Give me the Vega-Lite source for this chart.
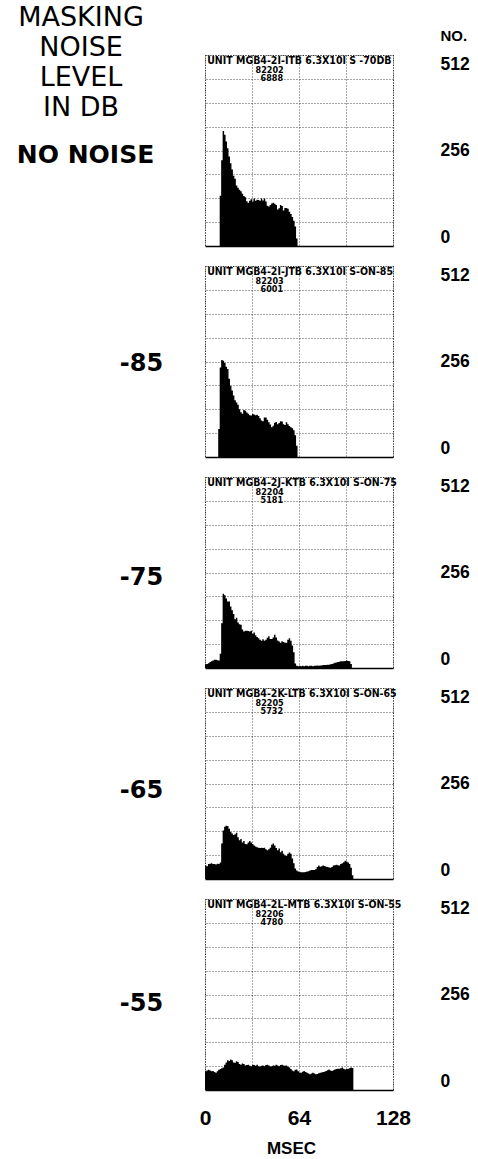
{
"$schema":"https://vega.github.io/schema/vega-lite/v6.json",
"autosize":{"type":"none"},
"padding":{"left":205,"top":55,"right":273,"bottom":1104},
"background":"white",
"datasets":{
"hist":[
{"level":"NO NOISE","t":10,"n":135},{"level":"NO NOISE","t":11,"n":230},{"level":"NO NOISE","t":12,"n":308},{"level":"NO NOISE","t":13,"n":298},{"level":"NO NOISE","t":14,"n":280},{"level":"NO NOISE","t":15,"n":262},{"level":"NO NOISE","t":16,"n":240},{"level":"NO NOISE","t":17,"n":222},{"level":"NO NOISE","t":18,"n":205},{"level":"NO NOISE","t":19,"n":188},{"level":"NO NOISE","t":20,"n":180},{"level":"NO NOISE","t":21,"n":162},{"level":"NO NOISE","t":22,"n":156},{"level":"NO NOISE","t":23,"n":151},{"level":"NO NOISE","t":24,"n":147},{"level":"NO NOISE","t":25,"n":140},{"level":"NO NOISE","t":26,"n":134},{"level":"NO NOISE","t":27,"n":131},{"level":"NO NOISE","t":28,"n":120},{"level":"NO NOISE","t":29,"n":116},{"level":"NO NOISE","t":30,"n":121},{"level":"NO NOISE","t":31,"n":125},{"level":"NO NOISE","t":32,"n":119},{"level":"NO NOISE","t":33,"n":127},{"level":"NO NOISE","t":34,"n":121},{"level":"NO NOISE","t":35,"n":124},{"level":"NO NOISE","t":36,"n":123},{"level":"NO NOISE","t":37,"n":121},{"level":"NO NOISE","t":38,"n":127},{"level":"NO NOISE","t":39,"n":122},{"level":"NO NOISE","t":40,"n":127},{"level":"NO NOISE","t":41,"n":119},{"level":"NO NOISE","t":42,"n":108},{"level":"NO NOISE","t":43,"n":106},{"level":"NO NOISE","t":44,"n":110},{"level":"NO NOISE","t":45,"n":114},{"level":"NO NOISE","t":46,"n":116},{"level":"NO NOISE","t":47,"n":113},{"level":"NO NOISE","t":48,"n":110},{"level":"NO NOISE","t":49,"n":98},{"level":"NO NOISE","t":50,"n":101},{"level":"NO NOISE","t":51,"n":110},{"level":"NO NOISE","t":52,"n":107},{"level":"NO NOISE","t":53,"n":95},{"level":"NO NOISE","t":54,"n":102},{"level":"NO NOISE","t":55,"n":102},{"level":"NO NOISE","t":56,"n":100},{"level":"NO NOISE","t":57,"n":92},{"level":"NO NOISE","t":58,"n":86},{"level":"NO NOISE","t":59,"n":78},{"level":"NO NOISE","t":60,"n":68},{"level":"NO NOISE","t":61,"n":52},{"level":"NO NOISE","t":62,"n":20},{"level":"NO NOISE","t":63,"n":0},
{"level":"-85","t":9,"n":75},{"level":"-85","t":10,"n":240},{"level":"-85","t":11,"n":260},{"level":"-85","t":12,"n":258},{"level":"-85","t":13,"n":252},{"level":"-85","t":14,"n":242},{"level":"-85","t":15,"n":236},{"level":"-85","t":16,"n":210},{"level":"-85","t":17,"n":190},{"level":"-85","t":18,"n":178},{"level":"-85","t":19,"n":165},{"level":"-85","t":20,"n":152},{"level":"-85","t":21,"n":146},{"level":"-85","t":22,"n":140},{"level":"-85","t":23,"n":128},{"level":"-85","t":24,"n":120},{"level":"-85","t":25,"n":116},{"level":"-85","t":26,"n":126},{"level":"-85","t":27,"n":124},{"level":"-85","t":28,"n":119},{"level":"-85","t":29,"n":116},{"level":"-85","t":30,"n":112},{"level":"-85","t":31,"n":111},{"level":"-85","t":32,"n":115},{"level":"-85","t":33,"n":114},{"level":"-85","t":34,"n":112},{"level":"-85","t":35,"n":113},{"level":"-85","t":36,"n":110},{"level":"-85","t":37,"n":104},{"level":"-85","t":38,"n":98},{"level":"-85","t":39,"n":96},{"level":"-85","t":40,"n":106},{"level":"-85","t":41,"n":106},{"level":"-85","t":42,"n":100},{"level":"-85","t":43,"n":93},{"level":"-85","t":44,"n":87},{"level":"-85","t":45,"n":80},{"level":"-85","t":46,"n":84},{"level":"-85","t":47,"n":92},{"level":"-85","t":48,"n":94},{"level":"-85","t":49,"n":88},{"level":"-85","t":50,"n":91},{"level":"-85","t":51,"n":96},{"level":"-85","t":52,"n":95},{"level":"-85","t":53,"n":88},{"level":"-85","t":54,"n":86},{"level":"-85","t":55,"n":93},{"level":"-85","t":56,"n":88},{"level":"-85","t":57,"n":83},{"level":"-85","t":58,"n":80},{"level":"-85","t":59,"n":77},{"level":"-85","t":60,"n":72},{"level":"-85","t":61,"n":58},{"level":"-85","t":62,"n":30},{"level":"-85","t":63,"n":0},
{"level":"-75","t":0,"n":10},{"level":"-75","t":1,"n":11},{"level":"-75","t":2,"n":13},{"level":"-75","t":3,"n":16},{"level":"-75","t":4,"n":18},{"level":"-75","t":5,"n":20},{"level":"-75","t":6,"n":22},{"level":"-75","t":7,"n":22},{"level":"-75","t":8,"n":21},{"level":"-75","t":9,"n":20},{"level":"-75","t":10,"n":38},{"level":"-75","t":11,"n":120},{"level":"-75","t":12,"n":199},{"level":"-75","t":13,"n":195},{"level":"-75","t":14,"n":186},{"level":"-75","t":15,"n":178},{"level":"-75","t":16,"n":178},{"level":"-75","t":17,"n":165},{"level":"-75","t":18,"n":155},{"level":"-75","t":19,"n":145},{"level":"-75","t":20,"n":131},{"level":"-75","t":21,"n":135},{"level":"-75","t":22,"n":122},{"level":"-75","t":23,"n":117},{"level":"-75","t":24,"n":116},{"level":"-75","t":25,"n":103},{"level":"-75","t":26,"n":98},{"level":"-75","t":27,"n":100},{"level":"-75","t":28,"n":100},{"level":"-75","t":29,"n":99},{"level":"-75","t":30,"n":98},{"level":"-75","t":31,"n":100},{"level":"-75","t":32,"n":92},{"level":"-75","t":33,"n":95},{"level":"-75","t":34,"n":88},{"level":"-75","t":35,"n":83},{"level":"-75","t":36,"n":80},{"level":"-75","t":37,"n":76},{"level":"-75","t":38,"n":73},{"level":"-75","t":39,"n":77},{"level":"-75","t":40,"n":73},{"level":"-75","t":41,"n":76},{"level":"-75","t":42,"n":81},{"level":"-75","t":43,"n":85},{"level":"-75","t":44,"n":78},{"level":"-75","t":45,"n":78},{"level":"-75","t":46,"n":82},{"level":"-75","t":47,"n":89},{"level":"-75","t":48,"n":82},{"level":"-75","t":49,"n":74},{"level":"-75","t":50,"n":71},{"level":"-75","t":51,"n":68},{"level":"-75","t":52,"n":72},{"level":"-75","t":53,"n":70},{"level":"-75","t":54,"n":68},{"level":"-75","t":55,"n":68},{"level":"-75","t":56,"n":76},{"level":"-75","t":57,"n":80},{"level":"-75","t":58,"n":73},{"level":"-75","t":59,"n":60},{"level":"-75","t":60,"n":42},{"level":"-75","t":61,"n":12},{"level":"-75","t":62,"n":6},{"level":"-75","t":63,"n":5},{"level":"-75","t":64,"n":6},{"level":"-75","t":65,"n":5},{"level":"-75","t":66,"n":6},{"level":"-75","t":67,"n":5},{"level":"-75","t":68,"n":6},{"level":"-75","t":69,"n":6},{"level":"-75","t":70,"n":5},{"level":"-75","t":71,"n":6},{"level":"-75","t":72,"n":6},{"level":"-75","t":73,"n":5},{"level":"-75","t":74,"n":6},{"level":"-75","t":75,"n":6},{"level":"-75","t":76,"n":7},{"level":"-75","t":77,"n":6},{"level":"-75","t":78,"n":7},{"level":"-75","t":79,"n":7},{"level":"-75","t":80,"n":8},{"level":"-75","t":81,"n":8},{"level":"-75","t":82,"n":8},{"level":"-75","t":83,"n":9},{"level":"-75","t":84,"n":9},{"level":"-75","t":85,"n":10},{"level":"-75","t":86,"n":11},{"level":"-75","t":87,"n":12},{"level":"-75","t":88,"n":14},{"level":"-75","t":89,"n":15},{"level":"-75","t":90,"n":16},{"level":"-75","t":91,"n":17},{"level":"-75","t":92,"n":18},{"level":"-75","t":93,"n":18},{"level":"-75","t":94,"n":18},{"level":"-75","t":95,"n":19},{"level":"-75","t":96,"n":20},{"level":"-75","t":97,"n":19},{"level":"-75","t":98,"n":18},{"level":"-75","t":99,"n":11},{"level":"-75","t":100,"n":0},
{"level":"-65","t":0,"n":36},{"level":"-65","t":1,"n":34},{"level":"-65","t":2,"n":40},{"level":"-65","t":3,"n":41},{"level":"-65","t":4,"n":42},{"level":"-65","t":5,"n":40},{"level":"-65","t":6,"n":40},{"level":"-65","t":7,"n":39},{"level":"-65","t":8,"n":41},{"level":"-65","t":9,"n":40},{"level":"-65","t":10,"n":44},{"level":"-65","t":11,"n":95},{"level":"-65","t":12,"n":130},{"level":"-65","t":13,"n":140},{"level":"-65","t":14,"n":143},{"level":"-65","t":15,"n":142},{"level":"-65","t":16,"n":135},{"level":"-65","t":17,"n":126},{"level":"-65","t":18,"n":122},{"level":"-65","t":19,"n":118},{"level":"-65","t":20,"n":120},{"level":"-65","t":21,"n":124},{"level":"-65","t":22,"n":112},{"level":"-65","t":23,"n":104},{"level":"-65","t":24,"n":107},{"level":"-65","t":25,"n":98},{"level":"-65","t":26,"n":102},{"level":"-65","t":27,"n":94},{"level":"-65","t":28,"n":93},{"level":"-65","t":29,"n":98},{"level":"-65","t":30,"n":102},{"level":"-65","t":31,"n":98},{"level":"-65","t":32,"n":94},{"level":"-65","t":33,"n":90},{"level":"-65","t":34,"n":87},{"level":"-65","t":35,"n":85},{"level":"-65","t":36,"n":84},{"level":"-65","t":37,"n":83},{"level":"-65","t":38,"n":84},{"level":"-65","t":39,"n":83},{"level":"-65","t":40,"n":84},{"level":"-65","t":41,"n":80},{"level":"-65","t":42,"n":77},{"level":"-65","t":43,"n":80},{"level":"-65","t":44,"n":84},{"level":"-65","t":45,"n":92},{"level":"-65","t":46,"n":95},{"level":"-65","t":47,"n":90},{"level":"-65","t":48,"n":83},{"level":"-65","t":49,"n":77},{"level":"-65","t":50,"n":82},{"level":"-65","t":51,"n":72},{"level":"-65","t":52,"n":76},{"level":"-65","t":53,"n":68},{"level":"-65","t":54,"n":63},{"level":"-65","t":55,"n":62},{"level":"-65","t":56,"n":68},{"level":"-65","t":57,"n":71},{"level":"-65","t":58,"n":68},{"level":"-65","t":59,"n":55},{"level":"-65","t":60,"n":42},{"level":"-65","t":61,"n":28},{"level":"-65","t":62,"n":23},{"level":"-65","t":63,"n":20},{"level":"-65","t":64,"n":19},{"level":"-65","t":65,"n":18},{"level":"-65","t":66,"n":18},{"level":"-65","t":67,"n":18},{"level":"-65","t":68,"n":19},{"level":"-65","t":69,"n":20},{"level":"-65","t":70,"n":21},{"level":"-65","t":71,"n":23},{"level":"-65","t":72,"n":24},{"level":"-65","t":73,"n":24},{"level":"-65","t":74,"n":24},{"level":"-65","t":75,"n":26},{"level":"-65","t":76,"n":32},{"level":"-65","t":77,"n":36},{"level":"-65","t":78,"n":33},{"level":"-65","t":79,"n":34},{"level":"-65","t":80,"n":36},{"level":"-65","t":81,"n":35},{"level":"-65","t":82,"n":33},{"level":"-65","t":83,"n":32},{"level":"-65","t":84,"n":31},{"level":"-65","t":85,"n":30},{"level":"-65","t":86,"n":32},{"level":"-65","t":87,"n":36},{"level":"-65","t":88,"n":37},{"level":"-65","t":89,"n":38},{"level":"-65","t":90,"n":37},{"level":"-65","t":91,"n":36},{"level":"-65","t":92,"n":40},{"level":"-65","t":93,"n":42},{"level":"-65","t":94,"n":45},{"level":"-65","t":95,"n":49},{"level":"-65","t":96,"n":47},{"level":"-65","t":97,"n":44},{"level":"-65","t":98,"n":40},{"level":"-65","t":99,"n":30},{"level":"-65","t":100,"n":10},{"level":"-65","t":101,"n":0},
{"level":"-55","t":0,"n":50},{"level":"-55","t":1,"n":52},{"level":"-55","t":2,"n":54},{"level":"-55","t":3,"n":52},{"level":"-55","t":4,"n":50},{"level":"-55","t":5,"n":51},{"level":"-55","t":6,"n":48},{"level":"-55","t":7,"n":46},{"level":"-55","t":8,"n":50},{"level":"-55","t":9,"n":54},{"level":"-55","t":10,"n":56},{"level":"-55","t":11,"n":58},{"level":"-55","t":12,"n":60},{"level":"-55","t":13,"n":68},{"level":"-55","t":14,"n":74},{"level":"-55","t":15,"n":80},{"level":"-55","t":16,"n":78},{"level":"-55","t":17,"n":82},{"level":"-55","t":18,"n":80},{"level":"-55","t":19,"n":74},{"level":"-55","t":20,"n":73},{"level":"-55","t":21,"n":77},{"level":"-55","t":22,"n":75},{"level":"-55","t":23,"n":70},{"level":"-55","t":24,"n":68},{"level":"-55","t":25,"n":71},{"level":"-55","t":26,"n":70},{"level":"-55","t":27,"n":66},{"level":"-55","t":28,"n":67},{"level":"-55","t":29,"n":68},{"level":"-55","t":30,"n":65},{"level":"-55","t":31,"n":64},{"level":"-55","t":32,"n":68},{"level":"-55","t":33,"n":67},{"level":"-55","t":34,"n":65},{"level":"-55","t":35,"n":68},{"level":"-55","t":36,"n":64},{"level":"-55","t":37,"n":63},{"level":"-55","t":38,"n":65},{"level":"-55","t":39,"n":66},{"level":"-55","t":40,"n":64},{"level":"-55","t":41,"n":67},{"level":"-55","t":42,"n":68},{"level":"-55","t":43,"n":66},{"level":"-55","t":44,"n":63},{"level":"-55","t":45,"n":64},{"level":"-55","t":46,"n":66},{"level":"-55","t":47,"n":65},{"level":"-55","t":48,"n":68},{"level":"-55","t":49,"n":66},{"level":"-55","t":50,"n":64},{"level":"-55","t":51,"n":67},{"level":"-55","t":52,"n":68},{"level":"-55","t":53,"n":66},{"level":"-55","t":54,"n":65},{"level":"-55","t":55,"n":66},{"level":"-55","t":56,"n":62},{"level":"-55","t":57,"n":60},{"level":"-55","t":58,"n":56},{"level":"-55","t":59,"n":52},{"level":"-55","t":60,"n":50},{"level":"-55","t":61,"n":54},{"level":"-55","t":62,"n":55},{"level":"-55","t":63,"n":50},{"level":"-55","t":64,"n":47},{"level":"-55","t":65,"n":46},{"level":"-55","t":66,"n":49},{"level":"-55","t":67,"n":51},{"level":"-55","t":68,"n":48},{"level":"-55","t":69,"n":46},{"level":"-55","t":70,"n":44},{"level":"-55","t":71,"n":42},{"level":"-55","t":72,"n":44},{"level":"-55","t":73,"n":46},{"level":"-55","t":74,"n":44},{"level":"-55","t":75,"n":42},{"level":"-55","t":76,"n":43},{"level":"-55","t":77,"n":45},{"level":"-55","t":78,"n":46},{"level":"-55","t":79,"n":47},{"level":"-55","t":80,"n":48},{"level":"-55","t":81,"n":49},{"level":"-55","t":82,"n":51},{"level":"-55","t":83,"n":53},{"level":"-55","t":84,"n":55},{"level":"-55","t":85,"n":52},{"level":"-55","t":86,"n":51},{"level":"-55","t":87,"n":53},{"level":"-55","t":88,"n":55},{"level":"-55","t":89,"n":56},{"level":"-55","t":90,"n":57},{"level":"-55","t":91,"n":57},{"level":"-55","t":92,"n":58},{"level":"-55","t":93,"n":60},{"level":"-55","t":94,"n":57},{"level":"-55","t":95,"n":55},{"level":"-55","t":96,"n":56},{"level":"-55","t":97,"n":57},{"level":"-55","t":98,"n":58},{"level":"-55","t":99,"n":60},{"level":"-55","t":100,"n":59},{"level":"-55","t":101,"n":0}
],
"headers":[
{"level":"NO NOISE","unit":"UNIT  MGB4-2I-ITB 6.3X10I S -70DB","run":"82202","count":"6888"},
{"level":"-85","unit":"UNIT  MGB4-2I-JTB 6.3X10I S-ON-85","run":"82203","count":"6001"},
{"level":"-75","unit":"UNIT  MGB4-2J-KTB 6.3X10I S-ON-75","run":"82204","count":"5181"},
{"level":"-65","unit":"UNIT  MGB4-2K-LTB 6.3X10I S-ON-65","run":"82205","count":"5732"},
{"level":"-55","unit":"UNIT  MGB4-2L-MTB 6.3X10I S-ON-55","run":"82206","count":"4780"}
]
},
"spacing":20,
"bounds":"flush",
"vconcat":[
{"width":188,"height":191,"resolve":{"axis":{"y":"independent"}},
"layer":[
{"data":{"name":"hist"},"transform":[{"filter":{"field":"level","equal":"NO NOISE"}}],
"mark":{"type":"area","interpolate":"step-after","color":"#000"},
"encoding":{
"x":{"field":"t","type":"quantitative","scale":{"domain":[0,128],"nice":false,"zero":false},"axis":{"values":[0,16,32,48,64,80,96,112,128],"labels":false,"ticks":false,"title":null}},
"y":{"field":"n","type":"quantitative","scale":{"domain":[0,512],"nice":false},"axis":{"orient":"right","values":[0,64,128,192,256,320,384,448,512],"labelExpr":"datum.value % 256 == 0 ? datum.label : ''","labelFlush":true,"labelPadding":47,"ticks":false,"domain":false,"title":"NO.","titleAngle":0,"titleX":47,"titleY":-20,"titleAlign":"left","titleBaseline":"middle","titleFontSize":15,"titleFont":"Liberation Sans","titleFontWeight":"bold"}}}},
{"data":{"name":"headers"},"transform":[{"filter":{"field":"level","equal":"NO NOISE"}}],
"mark":{"type":"text","align":"left","baseline":"middle","font":"DejaVu Sans Condensed","fontWeight":"bold","fontSize":10.5},
"encoding":{"x":{"datum":1.5,"type":"quantitative"},"y":{"datum":496,"type":"quantitative","axis":{"orient":"left","labels":false,"ticks":false,"domain":false,"grid":false,"title":"NO NOISE","titleAngle":0,"titleX":-120,"titleY":99,"titleAlign":"center","titleBaseline":"middle","titleFont":"DejaVu Sans","titleFontSize":25,"titleFontWeight":"bold"}},"text":{"field":"unit"}}},
{"data":{"name":"headers"},"transform":[{"filter":{"field":"level","equal":"NO NOISE"}}],
"mark":{"type":"text","align":"center","baseline":"middle","font":"DejaVu Sans Condensed","fontWeight":"bold","fontSize":9},
"encoding":{"x":{"datum":44,"type":"quantitative"},"y":{"datum":473,"type":"quantitative","axis":null},"text":{"field":"run"}}},
{"data":{"name":"headers"},"transform":[{"filter":{"field":"level","equal":"NO NOISE"}}],
"mark":{"type":"text","align":"center","baseline":"middle","font":"DejaVu Sans Condensed","fontWeight":"bold","fontSize":9},
"encoding":{"x":{"datum":45.5,"type":"quantitative"},"y":{"datum":450,"type":"quantitative","axis":null},"text":{"field":"count"}}},
{"data":{"values":[{"label":"MASKING NOISE LEVEL IN DB"}]},
"mark":{"type":"text","align":"center","baseline":"top","font":"DejaVu Sans","fontSize":27,"lineHeight":30,"text":["MASKING","NOISE","LEVEL","IN DB"]},
"encoding":{"x":{"datum":-84.4,"type":"quantitative"},"y":{"datum":646,"type":"quantitative","axis":null}}}
]},
{"width":188,"height":191,"resolve":{"axis":{"y":"independent"}},
"layer":[
{"data":{"name":"hist"},"transform":[{"filter":{"field":"level","equal":"-85"}}],
"mark":{"type":"area","interpolate":"step-after","color":"#000"},
"encoding":{
"x":{"field":"t","type":"quantitative","scale":{"domain":[0,128],"nice":false,"zero":false},"axis":{"values":[0,16,32,48,64,80,96,112,128],"labels":false,"ticks":false,"title":null}},
"y":{"field":"n","type":"quantitative","scale":{"domain":[0,512],"nice":false},"axis":{"orient":"right","values":[0,64,128,192,256,320,384,448,512],"labelExpr":"datum.value % 256 == 0 ? datum.label : ''","labelFlush":true,"labelPadding":47,"ticks":false,"domain":false,"title":null}}}},
{"data":{"name":"headers"},"transform":[{"filter":{"field":"level","equal":"-85"}}],
"mark":{"type":"text","align":"left","baseline":"middle","font":"DejaVu Sans Condensed","fontWeight":"bold","fontSize":10.5},
"encoding":{"x":{"datum":1.5,"type":"quantitative"},"y":{"datum":496,"type":"quantitative","axis":{"orient":"left","labels":false,"ticks":false,"domain":false,"grid":false,"title":"-85","titleAngle":0,"titleX":-64,"titleY":97,"titleAlign":"center","titleBaseline":"middle","titleFont":"DejaVu Sans","titleFontSize":24,"titleFontWeight":"bold"}},"text":{"field":"unit"}}},
{"data":{"name":"headers"},"transform":[{"filter":{"field":"level","equal":"-85"}}],
"mark":{"type":"text","align":"center","baseline":"middle","font":"DejaVu Sans Condensed","fontWeight":"bold","fontSize":9},
"encoding":{"x":{"datum":44,"type":"quantitative"},"y":{"datum":473,"type":"quantitative","axis":null},"text":{"field":"run"}}},
{"data":{"name":"headers"},"transform":[{"filter":{"field":"level","equal":"-85"}}],
"mark":{"type":"text","align":"center","baseline":"middle","font":"DejaVu Sans Condensed","fontWeight":"bold","fontSize":9},
"encoding":{"x":{"datum":45.5,"type":"quantitative"},"y":{"datum":450,"type":"quantitative","axis":null},"text":{"field":"count"}}}
]},
{"width":188,"height":191,"resolve":{"axis":{"y":"independent"}},
"layer":[
{"data":{"name":"hist"},"transform":[{"filter":{"field":"level","equal":"-75"}}],
"mark":{"type":"area","interpolate":"step-after","color":"#000"},
"encoding":{
"x":{"field":"t","type":"quantitative","scale":{"domain":[0,128],"nice":false,"zero":false},"axis":{"values":[0,16,32,48,64,80,96,112,128],"labels":false,"ticks":false,"title":null}},
"y":{"field":"n","type":"quantitative","scale":{"domain":[0,512],"nice":false},"axis":{"orient":"right","values":[0,64,128,192,256,320,384,448,512],"labelExpr":"datum.value % 256 == 0 ? datum.label : ''","labelFlush":true,"labelPadding":47,"ticks":false,"domain":false,"title":null}}}},
{"data":{"name":"headers"},"transform":[{"filter":{"field":"level","equal":"-75"}}],
"mark":{"type":"text","align":"left","baseline":"middle","font":"DejaVu Sans Condensed","fontWeight":"bold","fontSize":10.5},
"encoding":{"x":{"datum":1.5,"type":"quantitative"},"y":{"datum":496,"type":"quantitative","axis":{"orient":"left","labels":false,"ticks":false,"domain":false,"grid":false,"title":"-75","titleAngle":0,"titleX":-64,"titleY":100,"titleAlign":"center","titleBaseline":"middle","titleFont":"DejaVu Sans","titleFontSize":24,"titleFontWeight":"bold"}},"text":{"field":"unit"}}},
{"data":{"name":"headers"},"transform":[{"filter":{"field":"level","equal":"-75"}}],
"mark":{"type":"text","align":"center","baseline":"middle","font":"DejaVu Sans Condensed","fontWeight":"bold","fontSize":9},
"encoding":{"x":{"datum":44,"type":"quantitative"},"y":{"datum":473,"type":"quantitative","axis":null},"text":{"field":"run"}}},
{"data":{"name":"headers"},"transform":[{"filter":{"field":"level","equal":"-75"}}],
"mark":{"type":"text","align":"center","baseline":"middle","font":"DejaVu Sans Condensed","fontWeight":"bold","fontSize":9},
"encoding":{"x":{"datum":45.5,"type":"quantitative"},"y":{"datum":450,"type":"quantitative","axis":null},"text":{"field":"count"}}}
]},
{"width":188,"height":191,"resolve":{"axis":{"y":"independent"}},
"layer":[
{"data":{"name":"hist"},"transform":[{"filter":{"field":"level","equal":"-65"}}],
"mark":{"type":"area","interpolate":"step-after","color":"#000"},
"encoding":{
"x":{"field":"t","type":"quantitative","scale":{"domain":[0,128],"nice":false,"zero":false},"axis":{"values":[0,16,32,48,64,80,96,112,128],"labels":false,"ticks":false,"title":null}},
"y":{"field":"n","type":"quantitative","scale":{"domain":[0,512],"nice":false},"axis":{"orient":"right","values":[0,64,128,192,256,320,384,448,512],"labelExpr":"datum.value % 256 == 0 ? datum.label : ''","labelFlush":true,"labelPadding":47,"ticks":false,"domain":false,"title":null}}}},
{"data":{"name":"headers"},"transform":[{"filter":{"field":"level","equal":"-65"}}],
"mark":{"type":"text","align":"left","baseline":"middle","font":"DejaVu Sans Condensed","fontWeight":"bold","fontSize":10.5},
"encoding":{"x":{"datum":1.5,"type":"quantitative"},"y":{"datum":496,"type":"quantitative","axis":{"orient":"left","labels":false,"ticks":false,"domain":false,"grid":false,"title":"-65","titleAngle":0,"titleX":-64,"titleY":102,"titleAlign":"center","titleBaseline":"middle","titleFont":"DejaVu Sans","titleFontSize":24,"titleFontWeight":"bold"}},"text":{"field":"unit"}}},
{"data":{"name":"headers"},"transform":[{"filter":{"field":"level","equal":"-65"}}],
"mark":{"type":"text","align":"center","baseline":"middle","font":"DejaVu Sans Condensed","fontWeight":"bold","fontSize":9},
"encoding":{"x":{"datum":44,"type":"quantitative"},"y":{"datum":473,"type":"quantitative","axis":null},"text":{"field":"run"}}},
{"data":{"name":"headers"},"transform":[{"filter":{"field":"level","equal":"-65"}}],
"mark":{"type":"text","align":"center","baseline":"middle","font":"DejaVu Sans Condensed","fontWeight":"bold","fontSize":9},
"encoding":{"x":{"datum":45.5,"type":"quantitative"},"y":{"datum":450,"type":"quantitative","axis":null},"text":{"field":"count"}}}
]},
{"width":188,"height":191,"resolve":{"axis":{"y":"independent"}},
"layer":[
{"data":{"name":"hist"},"transform":[{"filter":{"field":"level","equal":"-55"}}],
"mark":{"type":"area","interpolate":"step-after","color":"#000"},
"encoding":{
"x":{"field":"t","type":"quantitative","scale":{"domain":[0,128],"nice":false,"zero":false},"axis":{"values":[0,16,32,48,64,80,96,112,128],"labelExpr":"datum.value % 64 == 0 ? datum.label : ''","labelFlush":false,"labelFontSize":21,"labelPadding":17,"ticks":false,"title":"MSEC","titleFont":"Liberation Sans","titleFontSize":17,"titleFontWeight":"bold","titlePadding":12,"titleX":86,"titleAlign":"center"}},
"y":{"field":"n","type":"quantitative","scale":{"domain":[0,512],"nice":false},"axis":{"orient":"right","values":[0,64,128,192,256,320,384,448,512],"labelExpr":"datum.value % 256 == 0 ? datum.label : ''","labelFlush":true,"labelPadding":47,"ticks":false,"domain":false,"title":null}}}},
{"data":{"name":"headers"},"transform":[{"filter":{"field":"level","equal":"-55"}}],
"mark":{"type":"text","align":"left","baseline":"middle","font":"DejaVu Sans Condensed","fontWeight":"bold","fontSize":10.5},
"encoding":{"x":{"datum":1.5,"type":"quantitative"},"y":{"datum":496,"type":"quantitative","axis":{"orient":"left","labels":false,"ticks":false,"domain":false,"grid":false,"title":"-55","titleAngle":0,"titleX":-64,"titleY":104,"titleAlign":"center","titleBaseline":"middle","titleFont":"DejaVu Sans","titleFontSize":24,"titleFontWeight":"bold"}},"text":{"field":"unit"}}},
{"data":{"name":"headers"},"transform":[{"filter":{"field":"level","equal":"-55"}}],
"mark":{"type":"text","align":"center","baseline":"middle","font":"DejaVu Sans Condensed","fontWeight":"bold","fontSize":9},
"encoding":{"x":{"datum":44,"type":"quantitative"},"y":{"datum":473,"type":"quantitative","axis":null},"text":{"field":"run"}}},
{"data":{"name":"headers"},"transform":[{"filter":{"field":"level","equal":"-55"}}],
"mark":{"type":"text","align":"center","baseline":"middle","font":"DejaVu Sans Condensed","fontWeight":"bold","fontSize":9},
"encoding":{"x":{"datum":45.5,"type":"quantitative"},"y":{"datum":450,"type":"quantitative","axis":null},"text":{"field":"count"}}}
]}
],
"config":{
"view":{"stroke":"#333","strokeWidth":1,"strokeDash":[1,1.5]},
"axis":{"grid":true,"gridColor":"#222","gridDash":[1,2],"gridWidth":0.9,"gridOpacity":0.9,"domainColor":"#000","domainWidth":1.5,"labelFont":"Liberation Sans","labelFontWeight":"bold","labelColor":"#000","labelFontSize":17.5,"titleColor":"#000"},
"text":{"color":"#000"}
}
}
